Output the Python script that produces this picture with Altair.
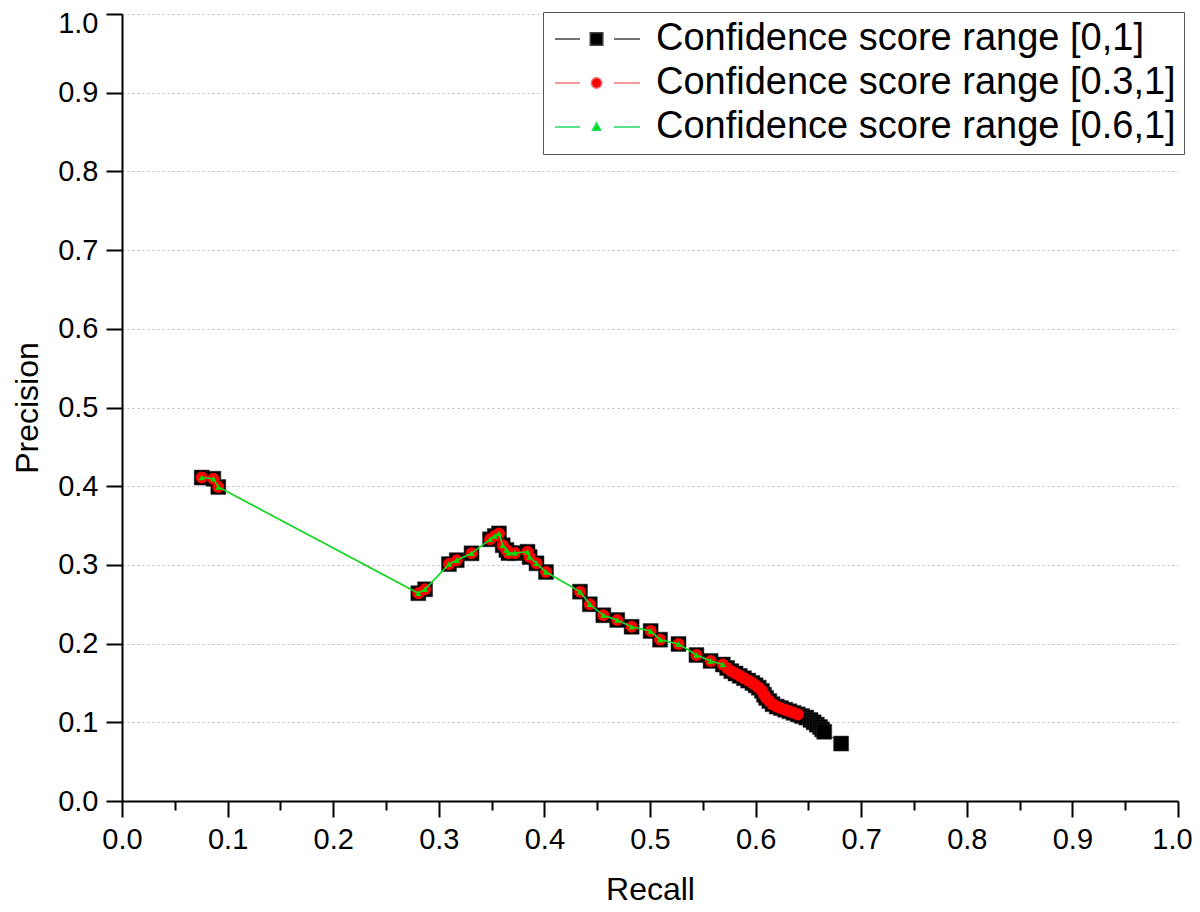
import altair as alt
import pandas as pd

# Points common to all three confidence ranges ([0.6,1] curve)
recall_06 = [0.0755, 0.0865, 0.0912, 0.2806, 0.2870, 0.3096, 0.3170, 0.3310,
             0.3485, 0.3530, 0.3570, 0.3605, 0.3640, 0.3660, 0.3720, 0.3840,
             0.3860, 0.3925, 0.4015, 0.4337, 0.4430, 0.4558, 0.4690, 0.4826,
             0.5006, 0.5095, 0.5270, 0.5440, 0.5574, 0.5690]
precision_06 = [0.411, 0.4095, 0.399, 0.264, 0.269, 0.301, 0.306, 0.3147,
                0.3325, 0.3367, 0.340, 0.325, 0.319, 0.315, 0.315, 0.3167,
                0.310, 0.302, 0.291, 0.266, 0.250, 0.236, 0.230, 0.2214,
                0.216, 0.205, 0.1995, 0.1855, 0.178, 0.1734]

# Extra points of the [0.3,1] curve
recall_03_extra = [0.573, 0.577, 0.581, 0.585, 0.589, 0.593, 0.597, 0.600,
                   0.603, 0.606, 0.608, 0.610, 0.613, 0.616, 0.620, 0.624,
                   0.628, 0.632, 0.636, 0.640]
precision_03_extra = [0.169, 0.165, 0.162, 0.159, 0.156, 0.153, 0.150, 0.147,
                      0.144, 0.140, 0.135, 0.131, 0.127, 0.123, 0.120, 0.118,
                      0.116, 0.114, 0.112, 0.110]

# Extra points of the [0,1] curve
recall_0_extra = [0.644, 0.648, 0.652, 0.655, 0.658, 0.661, 0.663, 0.665, 0.681]
precision_0_extra = [0.108, 0.106, 0.103, 0.100, 0.097, 0.094, 0.091, 0.088, 0.073]

series_names = ["Confidence score range [0,1]",
                "Confidence score range [0.3,1]",
                "Confidence score range [0.6,1]"]
marker_colors = ["#000000", "#ff0000", "#00e000"]
line_colors = ["#444444", "#f07878", "#22dd66"]

axis_ticks = [i / 20 for i in range(21)]

FONT = "Liberation Sans"

s0_r = recall_06 + recall_03_extra + recall_0_extra
s0_p = precision_06 + precision_03_extra + precision_0_extra
s3_r = recall_06 + recall_03_extra
s3_p = precision_06 + precision_03_extra

df0 = pd.DataFrame({"recall": s0_r, "precision": s0_p, "series": series_names[0]})
df3 = pd.DataFrame({"recall": s3_r, "precision": s3_p, "series": series_names[1]})
df6 = pd.DataFrame({"recall": recall_06, "precision": precision_06, "series": series_names[2]})
legend_df = pd.DataFrame({"series": series_names, "recall": [0.5] * 3, "precision": [0.5] * 3})

major_test = "round(datum.value*20) % 2 == 0"
label_expr = f"{major_test} ? format(datum.value, '.1f') : ''"
end_test = "datum.value >= 0.999"

common_axis = dict(
    values=axis_ticks, labelExpr=label_expr,
    tickSize={"condition": {"test": major_test, "value": 16}, "value": 9},
    tickWidth=2, tickColor="black", domainWidth=2, domainColor="black",
    labelFontSize=29, labelFont=FONT, labelColor="black", labelPadding=8,
    titleFontSize=32, titleFont=FONT, titleFontWeight="normal",
    titleColor="black", labelFlush=False,
)
x_axis = alt.Axis(grid=False, titlePadding=20,
                  labelOffset={"condition": {"test": end_test, "value": -6}, "value": 0},
                  **common_axis)
y_axis = alt.Axis(grid=True, gridDash=[2, 3], gridColor="#bbbbbb",
                  gridOpacity={"condition": {"test": major_test, "value": 1}, "value": 0},
                  labelOffset={"condition": {"test": end_test, "value": 9}, "value": 0},
                  titlePadding=13, **common_axis)

xs = alt.Scale(domain=[0, 1], nice=False, zero=False)
ys = alt.Scale(domain=[0, 1], nice=False, zero=False)


def enc(base):
    return base.encode(
        x=alt.X("recall:Q", scale=xs, axis=x_axis, title="Recall"),
        y=alt.Y("precision:Q", scale=ys, axis=y_axis, title="Precision"),
    )


black_line = enc(alt.Chart(df0).mark_line(color=line_colors[0], strokeWidth=1))
black_pts = enc(alt.Chart(df0).mark_point(shape="square", filled=True, size=225,
                                          color="#000000", opacity=1,
                                          stroke="#333333", strokeWidth=0.5))
red_line = enc(alt.Chart(df3).mark_line(color=line_colors[1], strokeWidth=1))
red_pts = enc(alt.Chart(df3).mark_point(shape="circle", filled=True, size=144,
                                        color="#ff0000", opacity=1))
green_line = enc(alt.Chart(df6).mark_line(color="#11dd22", strokeWidth=1.6))
green_pts = enc(alt.Chart(df6).mark_point(shape="triangle-up", filled=True, size=40,
                                          color="#00e000", opacity=1))

# legend glyphs: dash - marker - dash, unit = 15 px, starting at the symbol box left edge
glyph_square = "M-1,0H0.67M2.93,0H4.67M1.35,-0.42H2.19V0.42H1.35Z"
glyph_circle = "M-1,0H0.67M2.93,0H4.67M2.12,0A0.35,0.35 0 1,1 1.42,0A0.35,0.35 0 1,1 2.12,0Z"
glyph_tri = "M-1,0H0.67M2.93,0H4.67M1.77,-0.28L2.05,0.22L1.49,0.22Z"

legend_layer = alt.Chart(legend_df).mark_point(filled=True, opacity=1).encode(
    x=alt.X("recall:Q", scale=xs),
    y=alt.Y("precision:Q", scale=ys),
    shape=alt.Shape("series:N", title=None,
                    scale=alt.Scale(domain=series_names,
                                    range=[glyph_square, glyph_circle, glyph_tri])),
    fill=alt.Fill("series:N", title=None,
                  scale=alt.Scale(domain=series_names, range=marker_colors)),
    stroke=alt.Stroke("series:N", title=None,
                      scale=alt.Scale(domain=series_names, range=line_colors)),
).transform_filter("false")

chart = alt.layer(
    black_line, black_pts, red_line, red_pts, green_line, green_pts, legend_layer
).properties(
    width=1056, height=787,
    autosize=alt.AutoSizeParams(type="none"),
    padding={"left": 114, "top": 6, "right": 14, "bottom": 110},
).configure_view(
    stroke=None
).configure_legend(
    orient="none", legendX=421, legendY=-2,
    symbolSize=900, symbolStrokeWidth=1.5, symbolType="square",
    labelFontSize=38, labelFont=FONT, labelColor="black", labelLimit=0,
    labelOffset=67, rowPadding=6, padding=8,
    strokeColor="#555555", fillColor="white", cornerRadius=0,
)

chart.save("out.html", embed_options={"renderer": "svg", "actions": False})
